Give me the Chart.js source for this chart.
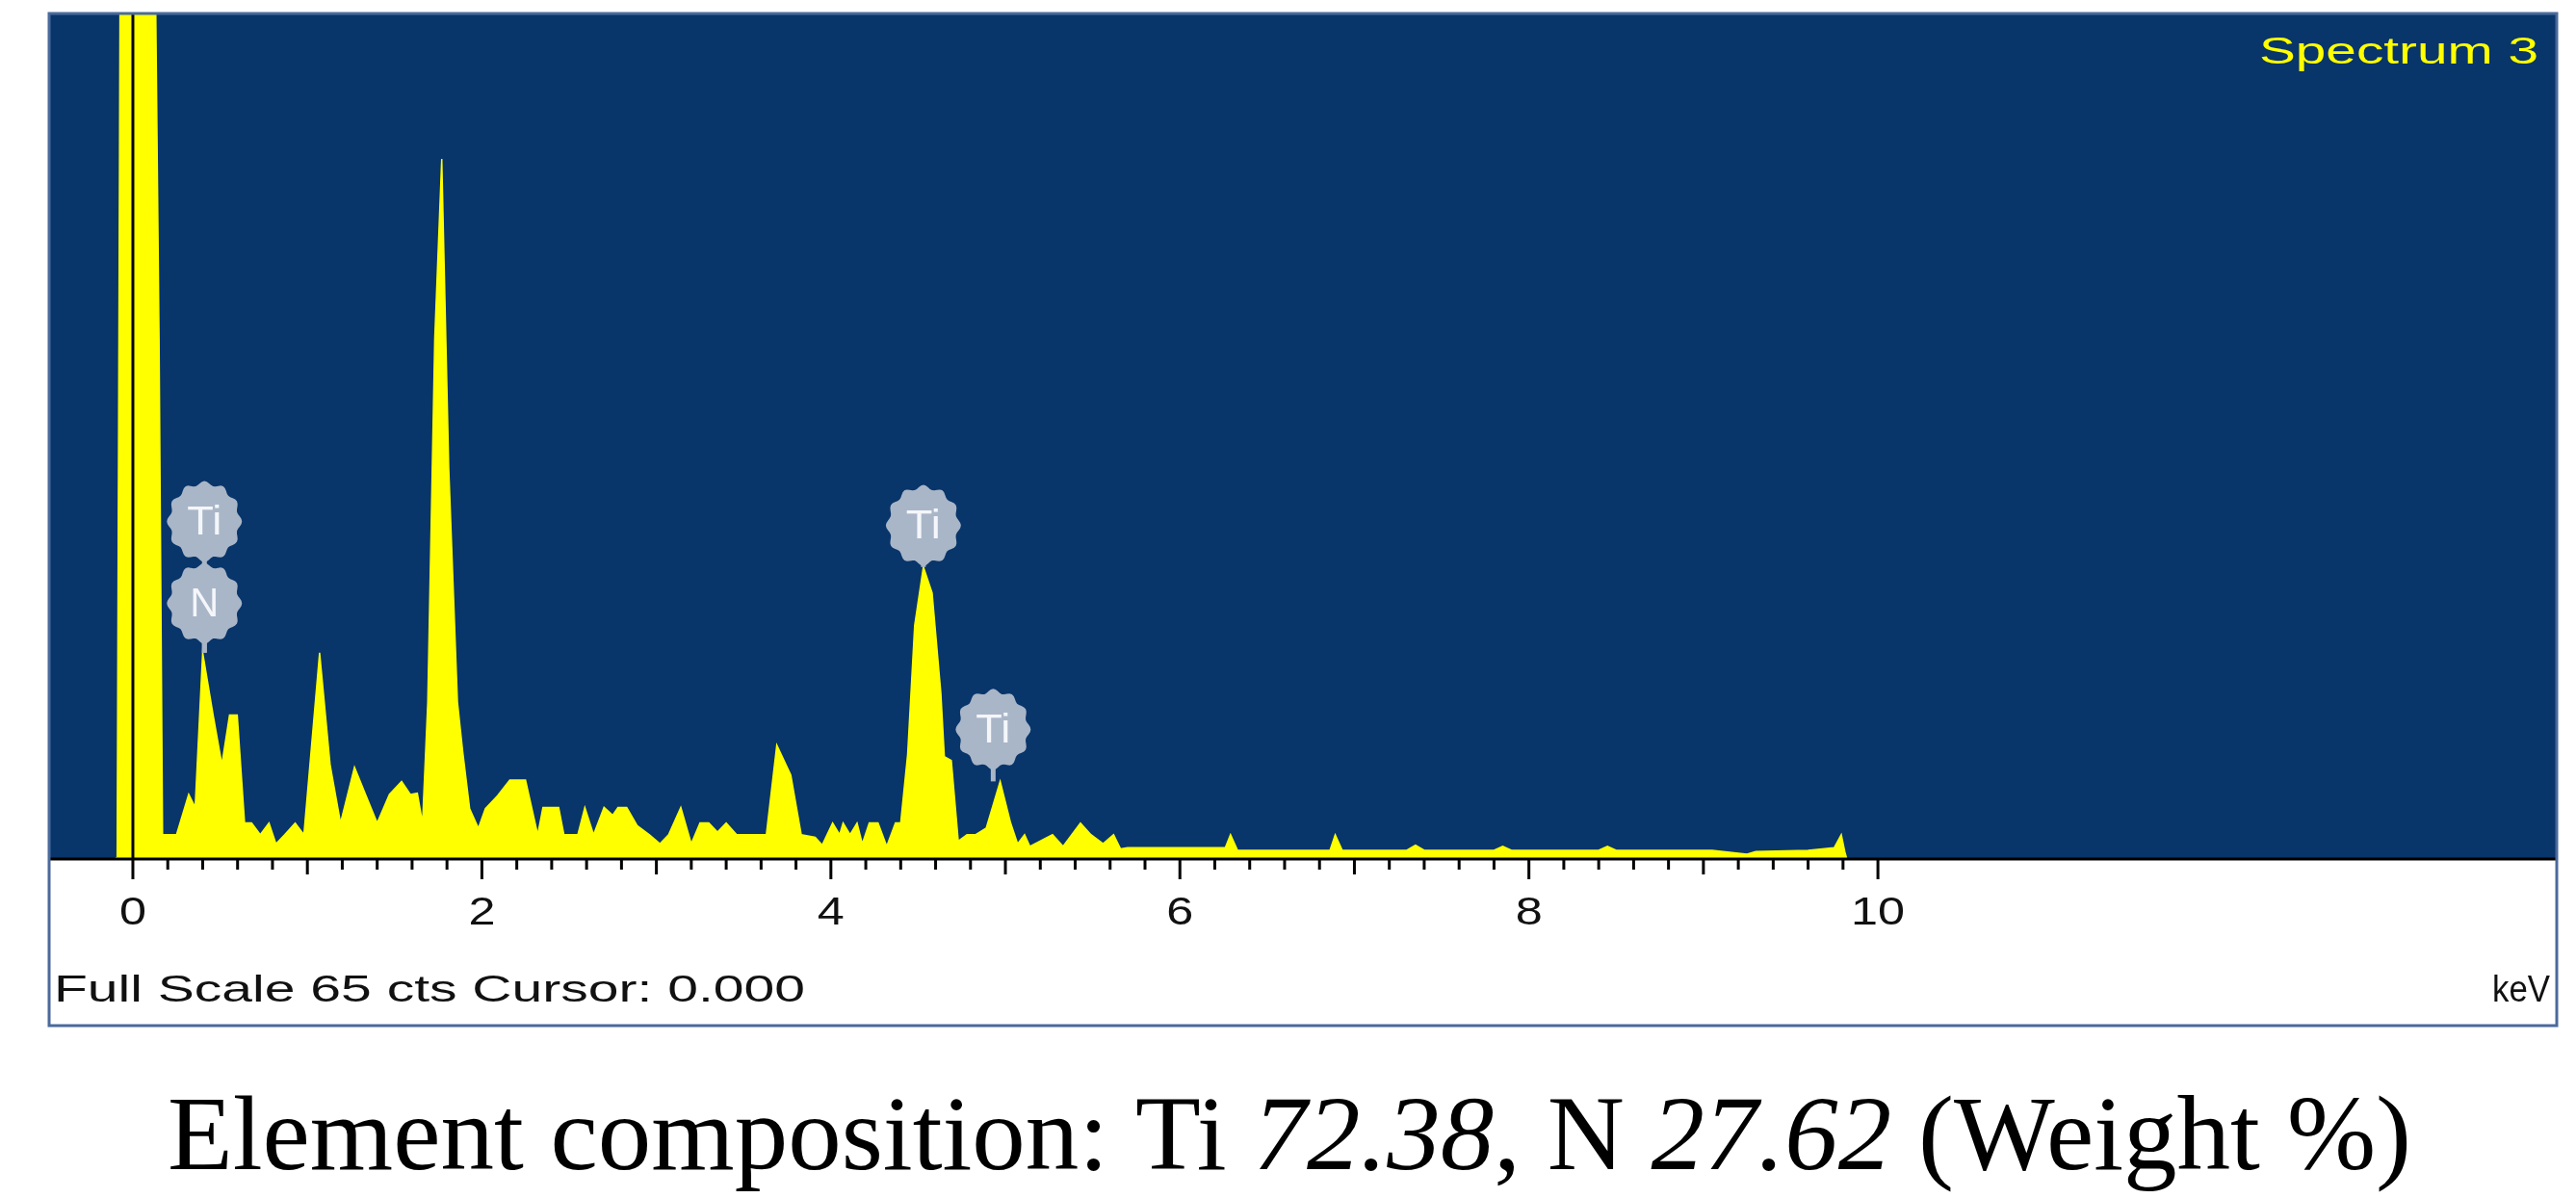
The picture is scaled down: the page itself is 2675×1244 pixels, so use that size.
<!DOCTYPE html>
<html><head><meta charset="utf-8">
<script src="https://cdn.jsdelivr.net/npm/chart.js@4/dist/chart.umd.min.js"></script>
<style>html,body{margin:0;padding:0;background:#fff}#wrap{width:2675px;height:1244px;position:relative}</style>
</head><body><div id="wrap"><canvas id="c"></canvas></div>
<script>
const energies = [-0.10,-0.09,-0.07,0.12,0.15,0.17,0.25,0.32,0.357,0.40,0.46,0.51,0.554,0.598,0.64,0.68,0.73,0.78,0.82,0.87,0.93,0.98,1.07,1.13,1.19,1.27,1.33,1.40,1.47,1.54,1.59,1.63,1.66,1.69,1.73,1.77,1.81,1.86,1.89,1.93,1.98,2.02,2.09,2.16,2.25,2.32,2.35,2.44,2.47,2.55,2.59,2.64,2.70,2.75,2.78,2.83,2.89,2.96,3.02,3.07,3.14,3.20,3.25,3.30,3.35,3.40,3.46,3.54,3.63,3.69,3.77,3.83,3.91,3.95,4.01,4.05,4.07,4.11,4.15,4.18,4.22,4.27,4.32,4.37,4.40,4.44,4.48,4.53,4.58,4.63,4.65,4.69,4.73,4.78,4.83,4.89,4.97,5.03,5.07,5.11,5.14,5.27,5.33,5.43,5.49,5.56,5.62,5.66,5.70,6.26,6.29,6.33,6.86,6.89,6.93,7.30,7.35,7.40,7.80,7.85,7.90,8.40,8.45,8.50,9.00,9.05,9.25,9.30,9.60,9.75,9.79,9.81,9.82];
const counts   = [0,0,80,80,40,1.8,1.8,4.9,3.9,15.8,11.0,7.2,11.0,11.0,2.7,2.7,1.8,2.7,1.1,1.8,2.7,1.8,15.8,7.2,2.7,7.0,5.0,2.7,4.9,5.9,4.9,5.0,2.7,12,40,53.8,30,12,8.2,3.8,2.3,3.8,4.8,6.0,6.0,1.8,3.9,3.9,1.8,1.8,3.9,1.8,3.9,3.3,3.9,3.9,2.5,1.8,1.1,1.8,3.9,1.1,2.7,2.7,2.0,2.7,1.8,1.8,1.8,8.7,6.4,1.8,1.6,1.0,2.7,1.8,2.7,1.8,2.7,1.1,2.7,2.7,0.9,2.7,2.7,8,17.9,22.4,20.4,12.7,7.8,7.5,1.3,1.8,1.8,2.3,5.9,2.7,1.1,1.8,0.9,1.8,0.9,2.7,1.8,1.1,1.8,0.7,0.8,0.8,1.8,0.6,0.6,1.8,0.6,0.6,1.0,0.6,0.6,0.9,0.6,0.6,0.9,0.6,0.6,0.6,0.3,0.5,0.6,0.8,1.8,0.5,0];
const tickLabels = [0,2,4,6,8,10];
const markerElements = ['Ti','N','Ti','Ti'];
const markerEnergies = [0.41,0.41,4.53,4.93];
const markerCounts = [25.9,19.6,25.6,9.9];
const markerPeaks = [15.8,15.8,22.4,5.9];

const SANS='"Liberation Sans", Arial, sans-serif';
function stretchText(c,txt,x,y,size,targetW,align){
  c.save();
  c.font=size+'px '+SANS;
  const w=c.measureText(txt).width, k=targetW/w;
  let x0 = align==='right'? x-targetW : align==='center'? x-targetW/2 : x;
  c.translate(x0,y); c.scale(k,1);
  c.textAlign='left'; c.textBaseline='middle';
  c.fillText(txt,0,0);
  c.restore();
}

const frame = {
  id:'frame',
  beforeDraw(ch){
    const c=ch.ctx, a=ch.chartArea;
    c.save();
    c.fillStyle='#fff'; c.fillRect(0,0,ch.width,ch.height);
    c.fillStyle='#08356a'; c.fillRect(a.left,a.top,a.right-a.left,a.bottom-a.top);
    c.restore();
  },
  afterDatasetsDraw(ch){
    const c=ch.ctx, a=ch.chartArea, xs=ch.scales.x, ys=ch.scales.y;
    c.save();
    c.strokeStyle='#000'; c.lineWidth=3;
    const x0=xs.getPixelForValue(0);
    c.beginPath(); c.moveTo(x0,a.top); c.lineTo(x0,a.bottom); c.stroke();
    c.beginPath(); c.moveTo(a.left,a.bottom+1); c.lineTo(a.right,a.bottom+1); c.stroke();
    for(let i=0;i<=50;i++){
      const v=i*0.2, px=xs.getPixelForValue(v);
      const len = (i%10===0)?22:(i%5===0?17:12);
      c.beginPath(); c.moveTo(px,a.bottom); c.lineTo(px,a.bottom+len); c.stroke();
    }
    c.fillStyle='#111';
    tickLabels.forEach(v=>{
      const s=String(v);
      stretchText(c,s,xs.getPixelForValue(v),949,40,s.length*28,'center');
    });
    for(let i=0;i<markerElements.length;i++){
      const px=xs.getPixelForValue(markerEnergies[i]), py=ys.getPixelForValue(markerCounts[i]);
      const pk=ys.getPixelForValue(markerPeaks[i]);
      c.strokeStyle='#a9b6c8'; c.lineWidth=5;
      c.beginPath(); c.moveTo(px,py); c.lineTo(px,pk); c.stroke();
      c.fillStyle='#a9b6c8';
      c.beginPath();
      for(let k=0;k<=96;k++){
        const t=k/96*Math.PI*2, r=37+2*Math.cos(t*12);
        const X=px+r*Math.cos(t), Y=py+(r*1.08)*Math.sin(t);
        k?c.lineTo(X,Y):c.moveTo(X,Y);
      }
      c.fill();
      c.fillStyle='#f4f6fa';
      stretchText(c,markerElements[i],px,py+2,42,markerElements[i]==='N'?30:36,'center');
    }
    c.fillStyle='#ffff00';
    stretchText(c,'Spectrum 3',2636,56,38,290,'right');
    c.fillStyle='#111';
    stretchText(c,'Full Scale 65 cts Cursor: 0.000',56,1030,38,780,'left');
    stretchText(c,'keV',2648,1030,38,60,'right');
    c.strokeStyle='#4a6a9c'; c.lineWidth=3;
    c.strokeRect(a.left,a.top,a.right-a.left,1065-a.top);
    const parts=[['Element composition: Ti ',''],['72.38','italic '],[', N ',''],['27.62','italic '],[' (Weight %)','']];
    const fs=111;
    let w=0;
    parts.forEach(p=>{c.font=p[1]+fs+'px "Liberation Serif","Times New Roman",serif'; w+=c.measureText(p[0]).width;});
    let x=1339-w/2;
    c.fillStyle='#000'; c.textAlign='left'; c.textBaseline='alphabetic';
    parts.forEach(p=>{c.font=p[1]+fs+'px "Liberation Serif","Times New Roman",serif'; c.fillText(p[0],x,1214); x+=c.measureText(p[0]).width;});
    c.restore();
  }
};

new Chart(document.getElementById('c'),{
  type:'line',
  data:{datasets:[{data:energies.map((e,i)=>({x:e,y:counts[i]})),fill:'origin',backgroundColor:'#ffff00',borderColor:'#ffff00',borderWidth:1.5,pointRadius:0,tension:0}]},
  options:{
    responsive:true,maintainAspectRatio:false,animation:false,devicePixelRatio:1,
    layout:{padding:{left:51,right:20,top:14,bottom:179}},
    plugins:{legend:{display:false},tooltip:{enabled:false}},
    scales:{
      x:{type:'linear',min:-0.48,max:13.89,
        afterFit(s){s.height=174;},
        grid:{display:false},border:{display:false},
        ticks:{display:false}},
      y:{display:false,min:0,max:65}
    }
  },
  plugins:[frame]
});
</script></body></html>
